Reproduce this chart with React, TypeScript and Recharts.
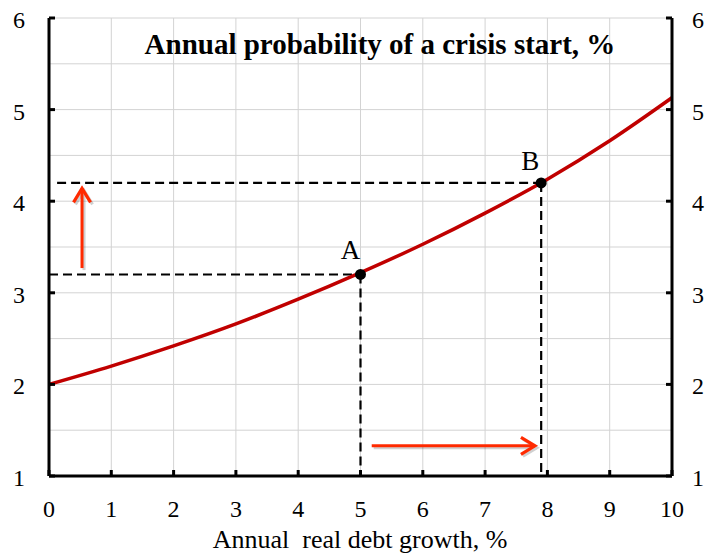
import React from 'react';
import {
  LineChart,
  Line,
  XAxis,
  YAxis,
  CartesianGrid,
  ReferenceLine,
  ReferenceDot,
  Customized,
} from 'recharts';

// ---- data ----
const growth = [0, 1, 2, 3, 4, 5, 6, 7, 8, 9, 10];
const probability = [2.0, 2.2, 2.42, 2.66, 2.93, 3.22, 3.53, 3.87, 4.24, 4.66, 5.13];
const xTicks = [0, 1, 2, 3, 4, 5, 6, 7, 8, 9, 10];
const yTicks = [1, 2, 3, 4, 5, 6];
const gridY = [1, 1.5, 2, 2.5, 3, 3.5, 4, 4.5, 5, 5.5, 6];
const pointA = { x: 5, y: 3.2, name: 'A' };
const pointB = { x: 7.9, y: 4.2, name: 'B' };
const upperGuideStart = 0.13;
const arrowUp = { x: 0.53, from: 3.27, to: 4.14 };
const arrowRight = { y: 1.33, from: 5.18, to: 7.8 };
const title = 'Annual probability of a crisis start, %';
const xTitle = 'Annual  real debt growth, %';

const data = growth.map((g, i) => ({ g, p: probability[i] }));

const FONT = '"Liberation Serif", "Times New Roman", serif';
const ARROW = '#ff2a00';
const TICK_FS = 24;

const arrowShape = (props: any) => {
  const { x1, y1, x2, y2 } = props;
  const dx = x2 - x1;
  const dy = y2 - y1;
  const len = Math.sqrt(dx * dx + dy * dy) || 1;
  const ux = dx / len;
  const uy = dy / len;
  const h = 14;
  const w = 8.5;
  const bx = x2 - ux * h;
  const by = y2 - uy * h;
  const p1x = bx - uy * w;
  const p1y = by + ux * w;
  const p2x = bx + uy * w;
  const p2y = by - ux * w;
  const head = `M${p1x},${p1y} L${x2},${y2} L${p2x},${p2y}`;
  return (
    <g>
      <g opacity={0.18} transform="translate(2,2)">
        <line x1={x1} y1={y1} x2={x2} y2={y2} stroke="#000" strokeWidth={3} />
        <path d={head} fill="none" stroke="#000" strokeWidth={3} />
      </g>
      <line x1={x1} y1={y1} x2={x2} y2={y2} stroke={ARROW} strokeWidth={3} />
      <path d={head} fill="none" stroke={ARROW} strokeWidth={3.2} strokeLinejoin="miter" />
    </g>
  );
};

const dotLabel = (text: string, dx: number, dy: number) => (props: any) => {
  const vb = props.viewBox || {};
  const cx = (vb.x || 0) + (vb.width || 0) / 2;
  const cy = (vb.y || 0) + (vb.height || 0) / 2;
  return (
    <text x={cx + dx} y={cy + dy} textAnchor="middle" fontFamily={FONT} fontSize={27} fill="#000">
      {text}
    </text>
  );
};

const XTick = (props: any) => {
  const { x, y, payload } = props;
  return (
    <text x={x} y={y + 16} textAnchor="middle" fontFamily={FONT} fontSize={TICK_FS} fill="#000">
      {payload.value}
    </text>
  );
};

const LeftTick = (props: any) => {
  const { x, y, payload } = props;
  return (
    <text x={x} y={y + 10} textAnchor="end" fontFamily={FONT} fontSize={TICK_FS} fill="#000">
      {payload.value}
    </text>
  );
};

const RightTick = (props: any) => {
  const { x, y, payload } = props;
  return (
    <text x={x} y={y + 10} textAnchor="start" fontFamily={FONT} fontSize={TICK_FS} fill="#000">
      {payload.value}
    </text>
  );
};

const Titles = () => (
  <g>
    <text x={380} y={54} textAnchor="middle" fontFamily={FONT} fontSize={29} fontWeight="bold" fill="#000">
      {title}
    </text>
    <text x={360} y={548} textAnchor="middle" fontFamily={FONT} fontSize={26} fill="#000" style={{ whiteSpace: 'pre' }}>
      {xTitle}
    </text>
  </g>
);

const dashed = { stroke: '#000', strokeWidth: 2.2, strokeDasharray: '9 5' };

export default function App() {
  return (
    <div style={{ position: 'absolute', left: 0, top: 0, width: 705, height: 556, background: '#fff' }}>
      <LineChart width={705} height={556} data={data} margin={{ top: 18, right: 32, left: 48, bottom: 0 }}>
        <CartesianGrid stroke="#d3d3d3" strokeWidth={1} horizontalValues={gridY} verticalValues={xTicks} />
        <XAxis
          dataKey="g"
          type="number"
          domain={[0, 10]}
          ticks={xTicks}
          height={80}
          axisLine={{ stroke: '#000', strokeWidth: 3 }}
          tickLine={{ stroke: '#000', strokeWidth: 3 }}
          tickSize={-6}
          tickMargin={31}
          tick={XTick}
          interval={0}
        />
        <YAxis
          type="number"
          domain={[1, 6]}
          ticks={yTicks}
          width={1}
          axisLine={{ stroke: '#000', strokeWidth: 3 }}
          tickLine={{ stroke: '#000', strokeWidth: 3 }}
          tickSize={-6}
          tickMargin={30}
          tick={LeftTick}
          interval={0}
        />
        <YAxis
          yAxisId="right"
          orientation="right"
          type="number"
          domain={[1, 6]}
          ticks={yTicks}
          width={1}
          allowDataOverflow
          axisLine={{ stroke: '#000', strokeWidth: 3 }}
          tickLine={{ stroke: '#000', strokeWidth: 3 }}
          tickSize={-6}
          tickMargin={26}
          tick={RightTick}
          interval={0}
        />
        <ReferenceLine segment={[{ x: 0, y: pointA.y }, { x: pointA.x, y: pointA.y }]} {...dashed} />
        <ReferenceLine segment={[{ x: pointA.x, y: pointA.y }, { x: pointA.x, y: 1 }]} {...dashed} />
        <ReferenceLine segment={[{ x: upperGuideStart, y: pointB.y }, { x: pointB.x, y: pointB.y }]} {...dashed} />
        <ReferenceLine segment={[{ x: pointB.x, y: pointB.y }, { x: pointB.x, y: 1 }]} {...dashed} />
        <ReferenceLine
          segment={[{ x: arrowUp.x, y: arrowUp.from }, { x: arrowUp.x, y: arrowUp.to }]}
          shape={arrowShape}
        />
        <ReferenceLine
          segment={[{ x: arrowRight.from, y: arrowRight.y }, { x: arrowRight.to, y: arrowRight.y }]}
          shape={arrowShape}
        />
        <Line
          yAxisId="right"
          type="monotone"
          dataKey="p"
          stroke="none"
          strokeOpacity={0}
          dot={false}
          activeDot={false}
          legendType="none"
          isAnimationActive={false}
        />
        <Line
          type="monotone"
          dataKey="p"
          stroke="#c00000"
          strokeWidth={3.5}
          dot={false}
          activeDot={false}
          isAnimationActive={false}
        />
        <ReferenceDot x={pointA.x} y={pointA.y} r={5.5} fill="#000" stroke="none" label={dotLabel(pointA.name, -10, -15)} />
        <ReferenceDot x={pointB.x} y={pointB.y} r={5.5} fill="#000" stroke="none" label={dotLabel(pointB.name, -11, -13)} />
        <Customized component={Titles} />
      </LineChart>
    </div>
  );
}
